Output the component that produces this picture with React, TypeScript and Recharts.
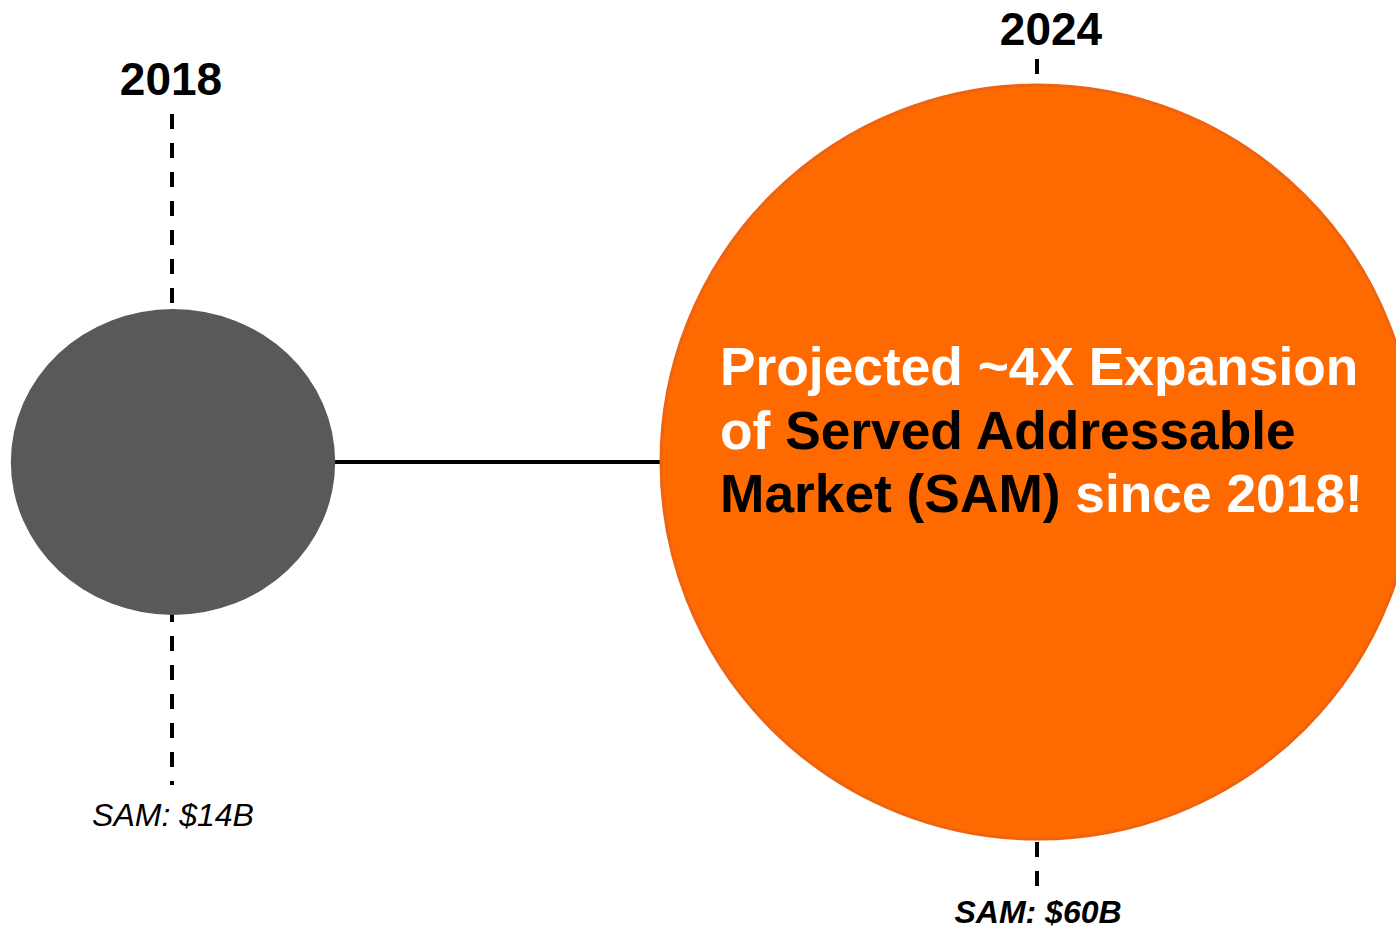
import { ScatterChart, Scatter, XAxis, YAxis, ZAxis } from "recharts";

const YEARS = [2018, 2024];
const SAM_BILLIONS = [14, 60];
const SAM_LABELS = ["SAM: $14B", "SAM: $60B"];
const BUBBLE_COLORS = ["#595959", "#FF6A00"];
const CALLOUT_LINES = [
  [{ text: "Projected ~4X Expansion", dark: false }],
  [
    { text: "of ", dark: false },
    { text: "Served Addressable", dark: true },
  ],
  [
    { text: "Market (SAM)", dark: true },
    { text: " since 2018!", dark: false },
  ],
];

const data = YEARS.map((year, i) => ({ year, level: 0, sam: SAM_BILLIONS[i] }));

// per-bubble decoration: stems, label gaps, outline
const DECOR = [
  { stretch: 1.06, stemUp: 195, stemDown: 170, yearGap: 214, yearDx: -2, samGap: 211, samWeight: "normal", stroke: "none" },
  { stretch: 1, stemUp: 26, stemDown: 50, yearGap: 40, yearDx: 13, samGap: 84, samWeight: "bold", stroke: "#EE6310" },
];

const FONT = '"Liberation Sans", Arial, sans-serif';

function Bubble(props: any) {
  const { cx, cy, width, size, payload } = props;
  const i = YEARS.indexOf(payload.year);
  const d = DECOR[i];
  const r = width ? width / 2 : Math.sqrt(size / Math.PI);
  const top = cy - r;
  const bottom = cy + r;
  const stemX = Math.round(cx) - 1;

  return (
    <g>
      <line
        x1={stemX}
        x2={stemX}
        y1={top - d.stemUp}
        y2={bottom + d.stemDown}
        stroke="#000"
        strokeWidth={4}
        strokeDasharray="15 14"
      />
      <ellipse
        cx={cx}
        cy={cy}
        rx={r * d.stretch}
        ry={r}
        fill={BUBBLE_COLORS[i]}
        stroke={d.stroke}
        strokeWidth={3}
      />
      <text
        x={cx + d.yearDx}
        y={top - d.yearGap}
        textAnchor="middle"
        fontFamily={FONT}
        fontWeight="bold"
        fontSize={46}
        fill="#000"
      >
        {payload.year}
      </text>
      <text
        x={cx}
        y={bottom + d.samGap}
        textAnchor="middle"
        fontFamily={FONT}
        fontStyle="italic"
        fontWeight={d.samWeight}
        fontSize={32}
        fill="#000"
      >
        {SAM_LABELS[i]}
      </text>
      {i === 1 &&
        CALLOUT_LINES.map((line, li) => (
          <text
            key={li}
            x={cx - 318}
            y={cy - 77 + li * 63.5}
            fontFamily={FONT}
            fontWeight="bold"
            fontSize={53.3}
            style={{ whiteSpace: "pre" }}
          >
            {line.map((seg, si) => (
              <tspan key={si} fill={seg.dark ? "#000" : "#FFFFFF"}>
                {seg.text}
              </tspan>
            ))}
          </text>
        ))}
    </g>
  );
}

export default function App() {
  return (
    <div style={{ position: "absolute", left: 0, top: 0, background: "#fff" }}>
      <ScatterChart width={1396} height={929} margin={{ top: 0, right: 358, bottom: 5, left: 173 }}>
        <XAxis type="number" dataKey="year" domain={[2018, 2024]} hide />
        <YAxis type="number" dataKey="level" domain={[-1, 1]} hide />
        <ZAxis type="number" dataKey="sam" domain={[14, 60]} range={[Math.PI * 153 ** 2, Math.PI * 377 ** 2]} />
        <Scatter
          data={data}
          shape={Bubble}
          line={{ stroke: "#000", strokeWidth: 4 }}
          isAnimationActive={false}
        />
      </ScatterChart>
    </div>
  );
}
